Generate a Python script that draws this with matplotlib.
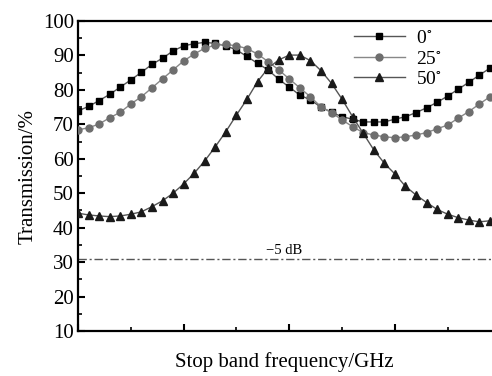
import matplotlib
matplotlib.use("Agg")
import matplotlib.pyplot as plt
from matplotlib.ticker import MultipleLocator, NullFormatter
import numpy as np

plt.rcParams['font.family'] = ['Liberation Serif', 'DejaVu Serif']
plt.rcParams['mathtext.fontset'] = 'stix'

x_index = list(range(40))
t0 = [73.9, 75.2, 76.9, 78.7, 80.8, 82.9, 85.1, 87.4, 89.2, 91.3,
      92.8, 93.4, 93.8, 93.5, 92.8, 91.6, 89.7, 87.7, 85.8, 83.1,
      80.8, 78.5, 77.1, 75.0, 73.5, 72.2, 71.5, 70.7, 70.7, 70.7,
      71.5, 72.2, 73.4, 74.8, 76.4, 78.2, 80.2, 82.2, 84.3, 86.3]
t25 = [68.4, 69.0, 70.1, 71.9, 73.5, 75.9, 78.0, 80.6, 83.2, 85.8,
       88.4, 90.4, 92.1, 93.0, 93.2, 92.8, 92.0, 90.4, 88.2, 85.8,
       83.2, 80.6, 78.0, 75.1, 73.4, 71.3, 69.3, 67.6, 66.9, 66.4,
       66.1, 66.4, 66.9, 67.6, 68.7, 69.8, 71.8, 73.7, 75.9, 78.0]
t50 = [44.2, 43.7, 43.4, 43.2, 43.4, 43.9, 44.6, 46.1, 47.8, 50.0,
       52.7, 55.8, 59.4, 63.5, 67.9, 72.7, 77.3, 82.4, 86.3, 88.7,
       90.1, 90.1, 88.5, 85.6, 81.9, 77.3, 72.2, 67.4, 62.6, 58.7,
       55.6, 52.0, 49.5, 47.3, 45.3, 43.9, 42.9, 42.2, 41.7, 42.0]
labels = ["0$^{\\circ}$", "25$^{\\circ}$", "50$^{\\circ}$"]
ref_level = 31.0
ref_text = "\u22125 dB"

fig = plt.figure(figsize=(4.92, 3.76), dpi=100)
ax = fig.add_axes([78/492, 45/376, 413/492, 310/376])

ax.axhline(ref_level, color='#555555', lw=1.0, linestyle=(0, (6, 2, 1.5, 2)), zorder=1)
ax.text(19.5, ref_level + 0.6, ref_text, ha='center', va='bottom', fontsize=10.5)

ax.plot(x_index, t0, color='#555555', lw=1.0, marker='s', markersize=4.5,
        markerfacecolor='black', markeredgecolor='black', label=labels[0], zorder=3)
ax.plot(x_index, t25, color='#888888', lw=1.0, marker='o', markersize=5,
        markerfacecolor='#6e6e6e', markeredgecolor='#6e6e6e', label=labels[1], zorder=3)
ax.plot(x_index, t50, color='#555555', lw=1.0, marker='^', markersize=5.5,
        markerfacecolor='#1a1a1a', markeredgecolor='#1a1a1a', label=labels[2], zorder=4)

ax.set_xlim(0, 39.1)
ax.set_ylim(10, 100)
ax.yaxis.set_major_locator(MultipleLocator(10))
ax.yaxis.set_minor_locator(MultipleLocator(5))
ax.xaxis.set_major_locator(MultipleLocator(10))
ax.xaxis.set_minor_locator(MultipleLocator(5))
ax.xaxis.set_major_formatter(NullFormatter())
ax.tick_params(axis='both', which='both', direction='in', top=False, right=False)
ax.tick_params(axis='both', which='major', length=5, width=1.5, labelsize=15)
ax.tick_params(axis='both', which='minor', length=3, width=1.2)
ax.tick_params(axis='y', pad=3)

for s in ['left', 'bottom', 'top']:
    ax.spines[s].set_linewidth(1.6)
ax.spines['right'].set_visible(False)

ax.set_ylabel("Transmission/%", fontsize=15, labelpad=4)
ax.set_xlabel("Stop band frequency/GHz", fontsize=15, labelpad=12)

leg = ax.legend(loc='upper left', bbox_to_anchor=(0.64, 1.01), frameon=False,
                fontsize=14, handlelength=2.6, handletextpad=0.6, labelspacing=0.15,
                borderaxespad=0.2)

fig.savefig("out.png", dpi=100)
